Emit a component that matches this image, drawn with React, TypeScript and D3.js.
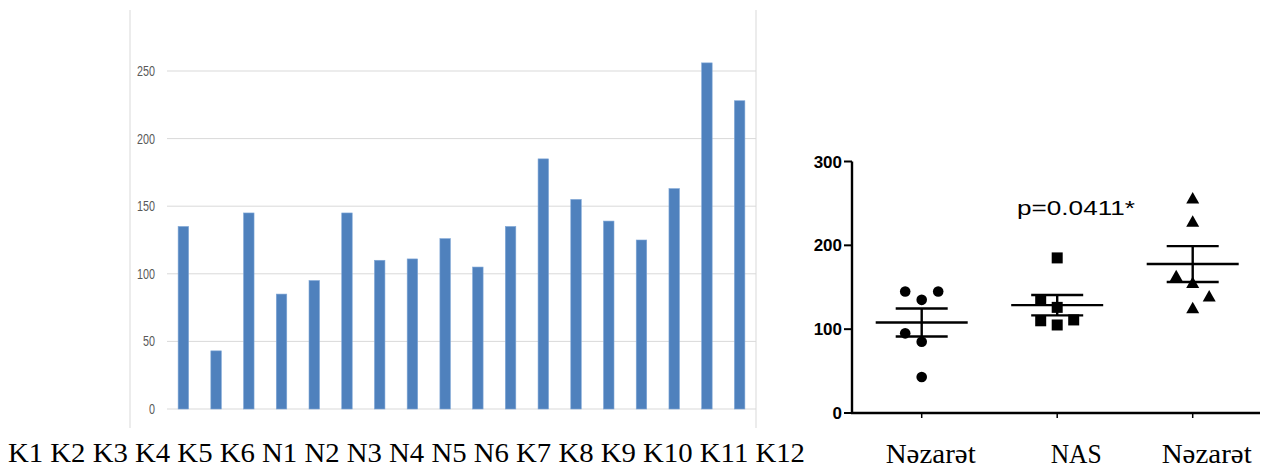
import React from 'react';
import * as d3 from 'd3';

// bar values, in order of the bars
const barNames = ['K1', 'K2', 'K3', 'K4', 'K5', 'K6', 'N1', 'N2', 'N3', 'N4', 'N5', 'N6', 'K7', 'K8', 'K9', 'K10', 'K11', 'K12'];
const barValues = [135, 43, 145, 85, 95, 145, 110, 111, 126, 105, 135, 185, 155, 139, 125, 163, 256, 228];
const barTicks = [0, 50, 100, 150, 200, 250];

// scatter groups
const groupNames = ['Nəzarət', 'NAS', 'Nəzarət'];
const groupValues = [
  [135, 43, 145, 85, 95, 145],
  [110, 111, 126, 105, 135, 185],
  [155, 139, 125, 163, 256, 228],
];
// jitter slot of each point (-1 left, 0 centre, 1 right)
const groupJitter = [
  [0, 0, -1, 0, -1, 1],
  [-1, 1, 0, 0, -1, 0],
  [0, 1, 0, -1, 0, 0],
];
const groupShapes = ['circle', 'square', 'triangle'];
const scatterTicks = [0, 100, 200, 300];
const pText = 'p=0.0411*';

const W = 1264;
const H = 470;

const serif = '"Liberation Serif", "Times New Roman", serif';
const sans = '"Liberation Sans", Arial, sans-serif';
const narrow = '"Liberation Sans Narrow", "Arial Narrow", sans-serif';

const App = () => {
  // left bar chart
  const x = d3.scaleBand().domain(barNames).range([167, 756]).paddingInner(0.68).paddingOuter(0.34);
  const y = d3.scaleLinear().domain([0, 250]).range([409, 71]);

  // right scatter chart
  const gy = d3.scaleLinear().domain([0, 300]).range([413, 161.5]);
  const gx = d3.scalePoint().domain(['0', '1', '2']).range([921.7, 1192.7]);
  const jit = 16.5;
  const cx = (i: number) => gx(String(i)) as number;
  // labels sit a bit right of the ticks in the original
  const labelShift = [9, 19, 14];
  const labelLen = [90, 51, 90];

  const stats = groupValues.map(v => {
    const m = d3.mean(v) as number;
    const sem = (d3.deviation(v) as number) / Math.sqrt(v.length);
    return { m, lo: m - sem, hi: m + sem };
  });

  const marker = (shape: string, px: number, py: number, k: string) => {
    if (shape === 'circle') return <circle key={k} cx={px} cy={py} r={5.3} fill="#000" />;
    if (shape === 'square') return <rect key={k} x={px - 5.5} y={py - 5.5} width={11} height={11} fill="#000" />;
    return <path key={k} d={`M${px},${py - 6.5}L${px + 6.5},${py + 5}L${px - 6.5},${py + 5}Z`} fill="#000" />;
  };

  return (
    <svg width={W} height={H} style={{ position: 'absolute', left: 0, top: 0, background: '#fff' }}>
      {/* frame of the bar chart */}
      <line x1={130} x2={130} y1={10} y2={428} stroke="#d9d9d9" />
      <line x1={756} x2={756} y1={10} y2={428} stroke="#d9d9d9" />
      {barTicks.map(t => (
        <g key={t}>
          <line x1={167} x2={756} y1={y(t)} y2={y(t)} stroke="#d9d9d9" strokeWidth={1} />
          <text x={155} y={y(t)} dy="0.36em" textAnchor="end" fontFamily={narrow} fontSize={14}
            fill="#595959" textLength={String(t).length * 6} lengthAdjust="spacingAndGlyphs">{t}</text>
        </g>
      ))}
      {barNames.map((n, i) => (
        <rect key={n} x={x(n)} y={y(barValues[i])} width={x.bandwidth()} height={y(0) - y(barValues[i])}
          fill="#4f81bd" stroke="#7ea6d6" strokeWidth={0.6} />
      ))}
      <text x={8} y={462} fontFamily={serif} fontSize={28} fill="#000" textLength={797} lengthAdjust="spacingAndGlyphs">
        {barNames.join(' ')}
      </text>

      {/* scatter chart */}
      <line x1={852} x2={852} y1={gy(300)} y2={gy(0) + 1} stroke="#000" strokeWidth={2.4} />
      <line x1={851} x2={1260} y1={gy(0)} y2={gy(0)} stroke="#000" strokeWidth={2.4} />
      {scatterTicks.map(t => (
        <g key={t}>
          <line x1={844} x2={852} y1={gy(t)} y2={gy(t)} stroke="#000" strokeWidth={2} />
          <text x={842} y={gy(t)} dy="0.36em" textAnchor="end" fontFamily={sans} fontWeight="bold" fontSize={17} fill="#000">{t}</text>
        </g>
      ))}
      {groupNames.map((g, i) => (
        <g key={i}>
          <line x1={cx(i)} x2={cx(i)} y1={gy(0)} y2={gy(0) + 5} stroke="#000" strokeWidth={1.5} />
          <text x={cx(i) + labelShift[i] - labelLen[i] / 2} y={463} fontFamily={serif} fontSize={28} fill="#000"
            textLength={labelLen[i]} lengthAdjust="spacingAndGlyphs">{g}</text>
        </g>
      ))}
      {groupValues.map((vals, gi) => (
        <g key={gi}>
          {vals.map((v, j) => marker(groupShapes[gi], cx(gi) + groupJitter[gi][j] * jit, gy(v), `${gi}-${j}`))}
          <line x1={cx(gi) - 46} x2={cx(gi) + 46} y1={gy(stats[gi].m)} y2={gy(stats[gi].m)} stroke="#000" strokeWidth={2.4} />
          <line x1={cx(gi) - 26} x2={cx(gi) + 26} y1={gy(stats[gi].hi)} y2={gy(stats[gi].hi)} stroke="#000" strokeWidth={2.4} />
          <line x1={cx(gi) - 26} x2={cx(gi) + 26} y1={gy(stats[gi].lo)} y2={gy(stats[gi].lo)} stroke="#000" strokeWidth={2.4} />
          <line x1={cx(gi)} x2={cx(gi)} y1={gy(stats[gi].hi)} y2={gy(stats[gi].lo)} stroke="#000" strokeWidth={2.4} />
        </g>
      ))}
      <text x={1017} y={215} fontFamily={sans} fontSize={20} fill="#000" textLength={118} lengthAdjust="spacingAndGlyphs">{pText}</text>
    </svg>
  );
};

export default App;
